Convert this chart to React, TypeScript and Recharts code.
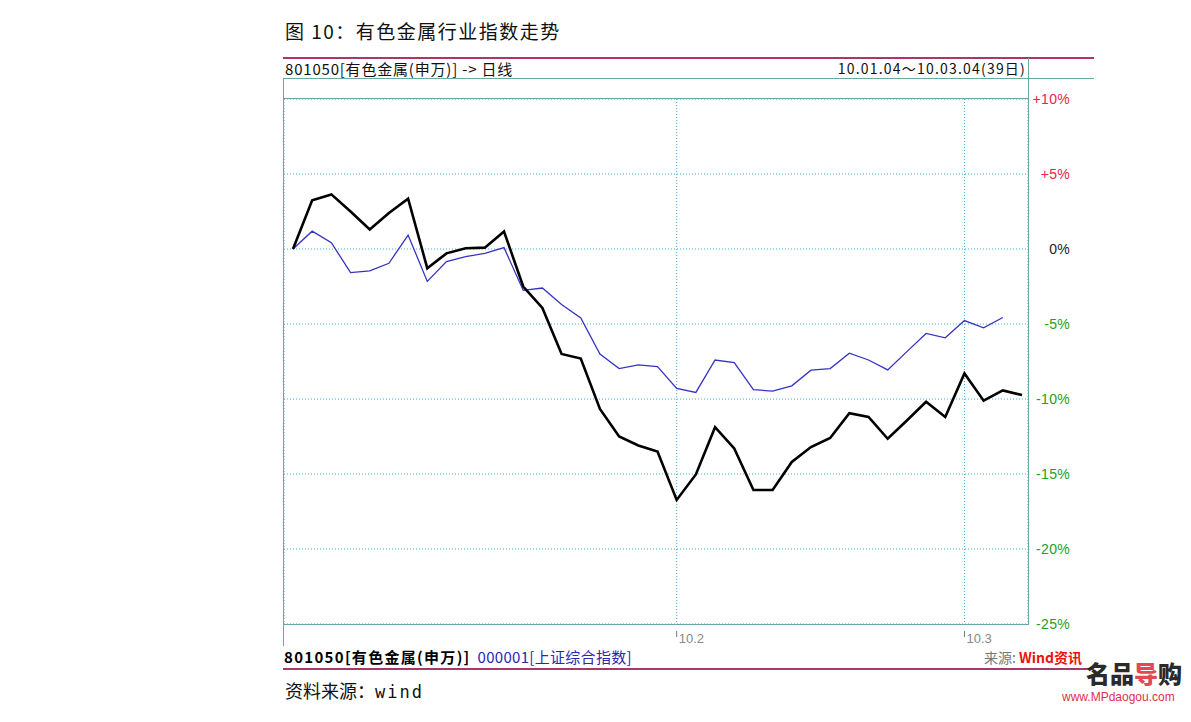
import React from "react";
import { LineChart, Line, XAxis, YAxis, CartesianGrid } from "recharts";

const dates = [
  "2010-01-04","2010-01-05","2010-01-06","2010-01-07","2010-01-08",
  "2010-01-11","2010-01-12","2010-01-13","2010-01-14","2010-01-15",
  "2010-01-18","2010-01-19","2010-01-20","2010-01-21","2010-01-22",
  "2010-01-25","2010-01-26","2010-01-27","2010-01-28","2010-01-29",
  "2010-02-01","2010-02-02","2010-02-03","2010-02-04","2010-02-05",
  "2010-02-08","2010-02-09","2010-02-10","2010-02-11","2010-02-12",
  "2010-02-22","2010-02-23","2010-02-24","2010-02-25","2010-02-26",
  "2010-03-01","2010-03-02","2010-03-03","2010-03-04",
];

const metals = [
  0, 3.25, 3.64, 2.5, 1.3, 2.4, 3.36, -1.28, -0.29, 0.05,
  0.09, 1.17, -2.5, -3.93, -7.0, -7.3, -10.66, -12.5, -13.1, -13.5,
  -16.73, -15.03, -11.88, -13.3, -16.07, -16.07, -14.2, -13.2, -12.6, -10.95,
  -11.2, -12.65, -11.43, -10.18, -11.2, -8.3, -10.11, -9.43, -9.74,
];

const shIndex: (number | null)[] = [
  0, 1.19, 0.42, -1.57, -1.46, -0.95, 0.93, -2.16, -0.84, -0.51,
  -0.29, 0.09, -2.76, -2.6, -3.7, -4.6, -7.0, -7.97, -7.73, -7.84,
  -9.29, -9.56, -7.4, -7.57, -9.38, -9.47, -9.12, -8.08, -7.97, -6.95,
  -7.4, -8.06, -6.84, -5.63, -5.92, -4.77, -5.25, -4.57, null,
];

const xTicks = ["2010-02-01", "2010-03-01"];
const xTickLabels: Record<string, string> = { "2010-02-01": "10.2", "2010-03-01": "10.3" };
const yTicks = [10, 5, 0, -5, -10, -15, -20, -25];

const data = dates.map((d, i) => ({ date: d, metals: metals[i], sh: shIndex[i] }));

const TEAL = "#6aa6a8";
const PINK = "#a8386c";
const GRID = "#4aa8dc";

const YTick = (props: any) => {
  const { y, payload } = props;
  const v = payload.value as number;
  const color = v > 0 ? "#f0204a" : v < 0 ? "#22a022" : "#222";
  const label = v > 0 ? `+${v}%` : `${v}%`;
  return (
    <text x={1070} y={y} dy={5} textAnchor="end" fill={color}
      style={{ fontFamily: "'Liberation Sans', Arial, sans-serif", fontSize: 14, letterSpacing: 0.3 }}>
      {label}
    </text>
  );
};

const XTick = (props: any) => {
  const { x, y, payload } = props;
  return (
    <g>
      <line x1={x} x2={x} y1={y - 1} y2={y + 5} stroke="#777" strokeWidth={1} />
      <text x={x + 2} y={y + 11} textAnchor="start" fill="#888"
        style={{ fontFamily: "'Liberation Sans', Arial, sans-serif", fontSize: 13 }}>
        {xTickLabels[payload.value] ?? payload.value}
      </text>
    </g>
  );
};

const abs = (s: React.CSSProperties): React.CSSProperties => ({ position: "absolute", ...s });

export default function App() {
  const cjk = "'Noto Sans CJK SC', 'Liberation Sans', sans-serif";
  return (
    <div style={abs({ left: 0, top: 0, width: 1191, height: 722, background: "#fff", overflow: "hidden" })}>
      <div style={abs({ left: 0, top: 0 })}>
        <LineChart width={1191} height={722} data={data}
          margin={{ top: 99, right: 103, bottom: 68, left: 284 }}>
          <CartesianGrid stroke={GRID} strokeDasharray="1 2" vertical={true} horizontal={true} />
          <XAxis dataKey="date" scale="point" padding={{ left: 9, right: 6 }} ticks={xTicks}
            interval={0} axisLine={false} tickLine={false} tick={<XTick />} height={30} />
          <YAxis orientation="right" domain={[-25, 10]} ticks={yTicks} type="number"
            axisLine={false} tickLine={false} tick={<YTick />} width={60} allowDataOverflow />
          <Line dataKey="sh" stroke="#3434c0" strokeWidth={1.3} dot={false}
            isAnimationActive={false} connectNulls={false} />
          <Line dataKey="metals" stroke="#000" strokeWidth={2.6} dot={false}
            isAnimationActive={false} />
        </LineChart>
      </div>

      {/* frame */}
      <div style={abs({ left: 283, top: 57, width: 811, height: 2, background: PINK })} />
      <div style={abs({ left: 283, top: 78, width: 811, height: 1, background: TEAL })} />
      <div style={abs({ left: 283, top: 98, width: 746, height: 1, background: TEAL })} />
      <div style={abs({ left: 283, top: 624, width: 746, height: 1, background: TEAL })} />
      <div style={abs({ left: 283, top: 78, width: 1, height: 568, background: TEAL })} />
      <div style={abs({ left: 1028, top: 58, width: 1, height: 567, background: TEAL })} />
      <div style={abs({ left: 283, top: 668, width: 811, height: 2, background: PINK })} />

      {/* title */}
      <div style={abs({ left: 285, top: 17, fontFamily: cjk, fontSize: 19, color: "#111", whiteSpace: "nowrap", letterSpacing: 1.5 })}>
        图 10：有色金属行业指数走势
      </div>

      {/* header */}
      <div style={abs({ left: 285, top: 59, fontFamily: cjk, fontSize: 15, color: "#111", whiteSpace: "nowrap", lineHeight: "19px", letterSpacing: 0.8 })}>
        801050[有色金属(申万)] -&gt; 日线
      </div>
      <div style={abs({ left: 820, width: 206, top: 59, fontFamily: cjk, fontSize: 14, color: "#111", whiteSpace: "nowrap", lineHeight: "19px", textAlign: "right", letterSpacing: 1.2 })}>
        10.01.04～10.03.04(39日)
      </div>

      {/* legend */}
      <div style={abs({ left: 284, top: 647, fontFamily: cjk, fontSize: 15, whiteSpace: "nowrap", lineHeight: "20px" })}>
        <span style={{ color: "#000", fontWeight: 700, letterSpacing: 1.3 }}>801050[有色金属(申万)]</span>
        <span style={{ color: "#2828b0", marginLeft: 7, letterSpacing: 0.3 }}>000001[上证综合指数]</span>
      </div>
      <div style={abs({ left: 984, top: 647, fontFamily: cjk, fontSize: 14, whiteSpace: "nowrap", lineHeight: "20px" })}>
        <span style={{ color: "#777" }}>来源: </span>
        <span style={{ color: "#ee1111", fontWeight: 700 }}>Wind资讯</span>
      </div>

      {/* source */}
      <div style={abs({ left: 285, top: 677, fontFamily: cjk, fontSize: 18, color: "#111", whiteSpace: "nowrap" })}>
        资料来源：<span style={{ fontFamily: "'DejaVu Sans Mono', 'Liberation Mono', monospace", fontSize: 17, letterSpacing: 2 }}>wind</span>
      </div>

      {/* watermark */}
      <div style={abs({ left: 1086, top: 660, fontFamily: cjk, fontSize: 24, fontWeight: 900, color: "#2a2a2a", whiteSpace: "nowrap", lineHeight: "26px" })}>
        名品<span style={{ color: "#e04a50" }}>导</span>购
      </div>
      <div style={abs({ left: 1062, top: 690, fontFamily: "'Liberation Sans', Arial, sans-serif", fontSize: 12, lineHeight: "14px", color: "#e0304a", whiteSpace: "nowrap" })}>
        www.MPdaogou.com
      </div>
    </div>
  );
}
